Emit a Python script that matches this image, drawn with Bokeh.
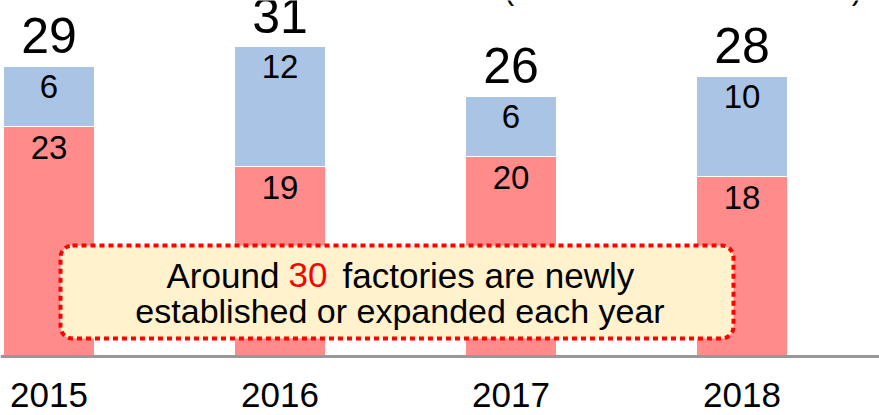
from bokeh.plotting import figure
from bokeh.models import Range1d, Span, BoxAnnotation, Label, ColumnDataSource
from bokeh.embed import file_html
from bokeh.resources import INLINE
from bokeh.core.properties import value

# ---- data ----
years = [2015, 2016, 2017, 2018]
year_labels = ["2015", "2016", "2017", "2018"]
new_factories = [23, 19, 20, 18]      # red (lower) segment
expanded = [6, 12, 6, 10]             # blue (upper) segment
totals = [29, 31, 26, 28]
unit_text = "(Unit: number of factories)"
note_line1 = ["Around", "30", "factories are newly"]
note_line2 = "established or expanded each year"

# ---- layout ----
W, H = 879, 415
PX_PER_YEAR = 231.0
X0 = years[0] - 48.5 / PX_PER_YEAR
PX_PER_UNIT = 10.0
Y_TOP = 35.6
Y_BOTTOM = Y_TOP - H / PX_PER_UNIT
SHIFT = 0.34  # em; compensation of the rendered baseline position


def px_x(px):
    return X0 + px / PX_PER_YEAR


def px_y(py):
    return Y_TOP - py / PX_PER_UNIT


def base_y(py, fs):
    # data y for a Label whose alphabetic baseline should land at pixel py
    return px_y(py - SHIFT * fs)


FONT = "Liberation Sans"
RED = "#FF8B8B"
BLUE = "#A9C4E4"

src = ColumnDataSource(dict(
    x=years,
    red=new_factories,
    blue=expanded,
    total=[r + b for r, b in zip(new_factories, expanded)],
    total_lbl=[str(t) for t in totals],
    red_lbl=[str(v) for v in new_factories],
    blue_lbl=[str(v) for v in expanded],
    year_lbl=year_labels,
    zero=[0] * len(years),
))

p = figure(width=W, height=H,
           x_range=Range1d(X0, X0 + W / PX_PER_YEAR),
           y_range=Range1d(Y_BOTTOM, Y_TOP),
           output_backend="svg", toolbar_location=None,
           min_border=0, x_axis_location=None, y_axis_location=None,
           outline_line_color=None, background_fill_color="white",
           border_fill_color="white")
p.grid.visible = False

BAR_W = 91 / PX_PER_YEAR
p.vbar(x="x", bottom="zero", top="red", width=BAR_W, source=src,
       fill_color=RED, line_color="white", line_width=1)
p.vbar(x="x", bottom="red", top="total", width=BAR_W, source=src,
       fill_color=BLUE, line_color="white", line_width=1)

p.add_layout(Span(location=0, dimension="width", line_color="#989898", line_width=3))

# totals above bars
p.text(x="x", y="total", text="total_lbl", source=src, text_align="center",
       text_baseline="alphabetic", y_offset=-14 - SHIFT * 50,
       text_font=value(FONT), text_font_size="50px", text_color="black")
# segment labels
p.text(x="x", y="total", text="blue_lbl", source=src, text_align="center",
       text_baseline="alphabetic", y_offset=31 - SHIFT * 33,
       text_font=value(FONT), text_font_size="33px", text_color="black")
p.text(x="x", y="red", text="red_lbl", source=src, text_align="center",
       text_baseline="alphabetic", y_offset=32 - SHIFT * 33,
       text_font=value(FONT), text_font_size="33px", text_color="black")
# year labels (category labels under the baseline)
p.text(x="x", y="zero", text="year_lbl", source=src, text_align="center",
       text_baseline="alphabetic", y_offset=50 - SHIFT * 35,
       text_font=value(FONT), text_font_size="35px", text_color="black")

# unit note (top right, mostly cropped in the reference)
p.add_layout(Label(x=px_x(682.5), y=base_y(-1.5, 31), text=unit_text, text_align="center",
                   text_baseline="alphabetic", text_font=FONT,
                   text_font_size="31px", text_color="black"))

# annotation box
box = BoxAnnotation(left=px_x(60), right=px_x(733), top=px_y(245), bottom=px_y(338),
                    fill_color="#FFF2CC", fill_alpha=1.0,
                    line_color="#FF0000", line_alpha=1.0, line_width=4,
                    line_dash="5 4", border_radius=12)
p.add_layout(box)

p.add_layout(Label(x=px_x(166), y=base_y(286.5, 35), text=note_line1[0], text_align="left",
                   text_baseline="alphabetic", text_font=FONT,
                   text_font_size="35px", text_color="black"))
p.add_layout(Label(x=px_x(307.5), y=base_y(286.5, 35), text=note_line1[1], text_align="center",
                   text_baseline="alphabetic", text_font=FONT,
                   text_font_size="35px", text_color="#FF0000"))
p.add_layout(Label(x=px_x(342), y=base_y(286.5, 35), text=note_line1[2], text_align="left",
                   text_baseline="alphabetic", text_font=FONT,
                   text_font_size="35px", text_color="black"))
p.add_layout(Label(x=px_x(399.5), y=base_y(322, 34), text=note_line2, text_align="center",
                   text_baseline="alphabetic", text_font=FONT,
                   text_font_size="34px", text_color="black"))

open("out.html", "w").write(file_html(p, INLINE))
